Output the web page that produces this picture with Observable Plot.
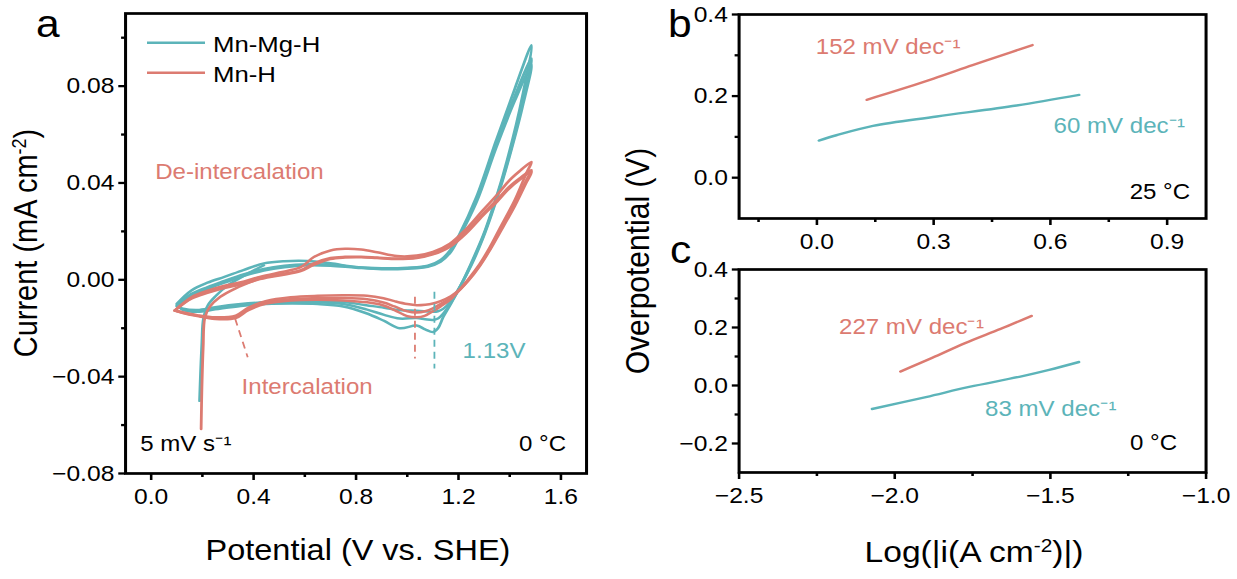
<!DOCTYPE html>
<html><head><meta charset="utf-8">
<script src="https://cdn.jsdelivr.net/npm/d3@7"></script>
<script src="https://cdn.jsdelivr.net/npm/@observablehq/plot@0.6"></script>
<style>
html,body{margin:0;padding:0;background:#fff;}
body{width:1237px;height:579px;overflow:hidden;}
#fig{position:relative;height:579px;transform-origin:0 0;font-family:"Liberation Sans",Arial,Helvetica,sans-serif;}
#fig > svg{position:absolute;overflow:visible;}
</style></head>
<body><div id="fig"></div>
<script>
// ================= DATA =================
// Panel a: cyclic voltammetry (V vs. SHE, mA cm^-2), three cycles per sample + initial transient
const tealInitV = [0.189, 0.193, 0.198, 0.204, 0.221, 0.253, 0.299, 0.364, 0.44];
const tealInitI = [-0.0500, -0.0380, -0.0260, -0.0161, -0.0106, -0.0066, -0.0023, 0.0018, 0.0060];

const tealAnodicV = [0.10, 0.157, 0.22, 0.286, 0.36, 0.44, 0.52, 0.61, 0.70, 0.80, 0.90, 1.00, 1.08, 1.13, 1.17, 1.20, 1.27, 1.347, 1.42, 1.485];
const tealAnodicI1 = [-0.0099, -0.0044, -0.0012, 0.0012, 0.0040, 0.0068, 0.0077, 0.0078, 0.0068, 0.0053, 0.0048, 0.0050, 0.0058, 0.0082, 0.0125, 0.0180, 0.0342, 0.0576, 0.0790, 0.0969];
const tealAnodicI2 = [-0.0105, -0.0058, -0.0030, -0.0005, 0.0022, 0.0045, 0.0058, 0.0064, 0.0062, 0.0052, 0.0046, 0.0048, 0.0056, 0.0078, 0.0120, 0.0175, 0.0330, 0.0560, 0.0760, 0.0914];
const tealAnodicI3 = [-0.0110, -0.0065, -0.0038, -0.0012, 0.0015, 0.0038, 0.0052, 0.0060, 0.0058, 0.0050, 0.0044, 0.0046, 0.0054, 0.0075, 0.0115, 0.0170, 0.0320, 0.0545, 0.0740, 0.0887];

const tealCathodicV = [1.45, 1.425, 1.373, 1.33, 1.295, 1.25, 1.21, 1.17, 1.14, 1.12, 1.10, 1.07, 1.037, 0.97, 0.91, 0.84, 0.75, 0.65, 0.55, 0.45, 0.35, 0.25, 0.18, 0.12, 0.10];
const tealCathodicI1 = [0.0760, 0.0640, 0.0430, 0.0285, 0.0180, 0.0070, -0.0020, -0.0100, -0.0155, -0.0200, -0.0216, -0.0205, -0.0189, -0.0200, -0.0170, -0.0138, -0.0110, -0.0100, -0.0098, -0.0100, -0.0108, -0.0122, -0.0132, -0.0122, -0.0099];
const tealCathodicI2 = [0.0730, 0.0620, 0.0420, 0.0278, 0.0175, 0.0065, -0.0022, -0.0095, -0.0140, -0.0160, -0.0166, -0.0163, -0.0158, -0.0160, -0.0145, -0.0122, -0.0100, -0.0093, -0.0092, -0.0095, -0.0103, -0.0117, -0.0128, -0.0120, -0.0105];
const tealCathodicI3 = [0.0715, 0.0610, 0.0413, 0.0272, 0.0170, 0.0060, -0.0020, -0.0088, -0.0120, -0.0130, -0.0132, -0.0130, -0.0128, -0.0125, -0.0115, -0.0105, -0.0092, -0.0088, -0.0088, -0.0092, -0.0100, -0.0113, -0.0125, -0.0118, -0.0110];

const salmonInitV = [0.195, 0.198, 0.203, 0.210, 0.230, 0.270, 0.330, 0.415];
const salmonInitI = [-0.0616, -0.0450, -0.0280, -0.0155, -0.0110, -0.0070, -0.0035, 0.0002];

const salmonAnodicV = [0.092, 0.157, 0.22, 0.286, 0.35, 0.415, 0.50, 0.584, 0.635, 0.70, 0.757, 0.82, 0.882, 0.96, 1.037, 1.10, 1.166, 1.23, 1.295, 1.35, 1.399, 1.44, 1.485];
const salmonAnodicI1 = [-0.0127, -0.0072, -0.0045, -0.0024, -0.0010, 0.0010, 0.0030, 0.0052, 0.0094, 0.0121, 0.0128, 0.0125, 0.0114, 0.0098, 0.0100, 0.0115, 0.0149, 0.0210, 0.0287, 0.0350, 0.0411, 0.0450, 0.0487];
const salmonAnodicI2 = [-0.0127, -0.0075, -0.0050, -0.0030, -0.0016, 0.0004, 0.0022, 0.0040, 0.0068, 0.0090, 0.0095, 0.0095, 0.0092, 0.0088, 0.0092, 0.0108, 0.0140, 0.0198, 0.0272, 0.0330, 0.0385, 0.0420, 0.0453];
const salmonAnodicI3 = [-0.0127, -0.0078, -0.0054, -0.0034, -0.0020, 0.0000, 0.0018, 0.0036, 0.0062, 0.0086, 0.0092, 0.0093, 0.0090, 0.0086, 0.0090, 0.0105, 0.0136, 0.0192, 0.0265, 0.0322, 0.0378, 0.0414, 0.0446];

const salmonCathodicV = [1.464, 1.42, 1.36, 1.32, 1.283, 1.24, 1.205, 1.17, 1.13, 1.10, 1.07, 1.037, 1.00, 0.95, 0.907, 0.843, 0.75, 0.65, 0.545, 0.45, 0.38, 0.33, 0.25, 0.18, 0.12, 0.092];
const salmonCathodicI1 = [0.0438, 0.0330, 0.0210, 0.0130, 0.0066, 0.0005, -0.0040, -0.0080, -0.0110, -0.0130, -0.0148, -0.0155, -0.0150, -0.0125, -0.0106, -0.0093, -0.0085, -0.0082, -0.0085, -0.0098, -0.0125, -0.0158, -0.0162, -0.0150, -0.0136, -0.0127];
const salmonCathodicI2 = [0.0410, 0.0315, 0.0200, 0.0122, 0.0060, 0.0000, -0.0042, -0.0075, -0.0100, -0.0118, -0.0130, -0.0135, -0.0130, -0.0110, -0.0094, -0.0080, -0.0075, -0.0076, -0.0080, -0.0093, -0.0120, -0.0152, -0.0158, -0.0148, -0.0135, -0.0127];
const salmonCathodicI3 = [0.0400, 0.0305, 0.0192, 0.0118, 0.0057, -0.0002, -0.0040, -0.0068, -0.0088, -0.0098, -0.0103, -0.0105, -0.0100, -0.0088, -0.0076, -0.0066, -0.0064, -0.0066, -0.0072, -0.0087, -0.0115, -0.0148, -0.0155, -0.0146, -0.0133, -0.0127];

// Peak markers (dashed) in panel a
const peakMarkers = [
  {series: "Mn-H",    V: 1.03,  I1: -0.0072, I2: -0.0327},
  {series: "Mn-Mg-H", V: 1.106, I1: -0.0051, I2: -0.0368}
];
const intercalationPointer = [{series: "Mn-H", V1: 0.328, I1: -0.0161, V2: 0.377, I2: -0.0320}];

// Panel a annotations (data coordinates, text baseline)
const annA = [
  {key: "Mn-H",    text: "De-intercalation", x: 0.0155, y: 0.0418, anchor: "start"},
  {key: "Mn-H",    text: "Intercalation",    x: 0.353,  y: -0.0472, anchor: "start"},
  {key: "Mn-Mg-H", text: "1.13V",            x: 1.216,  y: -0.0323, anchor: "start"},
  {key: "black",   text: "5 mV s\u207B\u00B9", x: -0.043, y: -0.0706, anchor: "start"},
  {key: "black",   text: "0 \u00B0C",        x: 1.62,   y: -0.0706, anchor: "end"}
];

// Panel b: Tafel plots at 25 °C
const bTealX = [0.005, 0.05, 0.144, 0.308, 0.513, 0.674];
const bTealY = [0.091, 0.104, 0.127, 0.150, 0.177, 0.203];
const bSalmonX = [0.128, 0.2, 0.3, 0.4, 0.5, 0.554];
const bSalmonY = [0.191, 0.212, 0.243, 0.276, 0.308, 0.325];
const annB = [
  {key: "Mn-H",    text: "152 mV dec\u207B\u00B9", x: -0.003, y: 0.3035, anchor: "start"},
  {key: "Mn-Mg-H", text: "60 mV dec\u207B\u00B9",  x: 0.608,  y: 0.109,  anchor: "start"},
  {key: "black",   text: "25 \u00B0C",            x: 0.959,  y: -0.0514, anchor: "end"}
];

// Panel c: Tafel plots at 0 °C
const cTealX = [-2.073, -1.90, -1.761, -1.60, -1.504, -1.408];
const cTealY = [-0.081, -0.040, -0.005, 0.030, 0.054, 0.081];
const cSalmonX = [-1.982, -1.88, -1.774, -1.66, -1.56];
const cSalmonY = [0.048, 0.095, 0.146, 0.195, 0.240];
const annC = [
  {key: "Mn-H",    text: "227 mV dec\u207B\u00B9", x: -2.179, y: 0.178,  anchor: "start"},
  {key: "Mn-Mg-H", text: "83 mV dec\u207B\u00B9",  x: -1.710, y: -0.1045, anchor: "start"},
  {key: "black",   text: "0 \u00B0C",             x: -1.093, y: -0.222, anchor: "end"}
];

// Ticks
const aXMajor = [0, 0.4, 0.8, 1.2, 1.6], aXMinor = [0.2, 0.6, 1.0, 1.4];
const aYMajor = [-0.08, -0.04, 0, 0.04, 0.08], aYMinor = [-0.06, -0.02, 0.02, 0.06, 0.10];
const bXMajor = [0, 0.3, 0.6, 0.9], bXMinor = [-0.15, 0.15, 0.45, 0.75];
const bYMajor = [0, 0.2, 0.4], bYMinor = [0.1, 0.3];
const cXMajor = [-2.5, -2.0, -1.5, -1.0], cXMinor = [-2.25, -1.75, -1.25];
const cYMajor = [-0.2, 0, 0.2, 0.4], cYMinor = [-0.1, 0.1, 0.3];

const legendItems = ["Mn-Mg-H", "Mn-H"];

// ================= STYLE / LAYOUT =================
const S = 1.12;                 // horizontal stretch of the reference figure
const X = px => px / S;
const FONT = '"Liberation Sans", Arial, Helvetica, sans-serif';
const COLORS = {"Mn-Mg-H": "#5cb4b9", "Mn-H": "#dc7b71", "black": "#000"};
const TICK_FS = 22, ANN_FS = 21.5;

const fig = document.getElementById("fig");
fig.style.width = X(1237) + "px";
fig.style.transform = `scaleX(${S})`;

function rows(series, cycle, Vs, Is) { return Vs.map((v, i) => ({series, cycle, V: v, I: Is[i]})); }
function pts(series, xs, ys) { return xs.map((x, i) => ({series, x, y: ys[i]})); }

const cvTeal = [
  ...rows("Mn-Mg-H", "init", tealInitV, tealInitI),
  ...rows("Mn-Mg-H", "c1", tealAnodicV.concat(tealCathodicV), tealAnodicI1.concat(tealCathodicI1)),
  ...rows("Mn-Mg-H", "c2", tealAnodicV.concat(tealCathodicV), tealAnodicI2.concat(tealCathodicI2)),
  ...rows("Mn-Mg-H", "c3", tealAnodicV.concat(tealCathodicV), tealAnodicI3.concat(tealCathodicI3))
];
const cvSalmon = [
  ...rows("Mn-H", "init", salmonInitV, salmonInitI),
  ...rows("Mn-H", "c1", salmonAnodicV.concat(salmonCathodicV), salmonAnodicI1.concat(salmonCathodicI1)),
  ...rows("Mn-H", "c2", salmonAnodicV.concat(salmonCathodicV), salmonAnodicI2.concat(salmonCathodicI2)),
  ...rows("Mn-H", "c3", salmonAnodicV.concat(salmonCathodicV), salmonAnodicI3.concat(salmonCathodicI3))
];

function axes(xMajor, xMinor, xFmt, yMajor, yMinor, yFmt) {
  return [
    Plot.axisX({ticks: xMajor, tickFormat: xFmt, tickSize: 7, tickPadding: 8, strokeWidth: 2.3, label: null, fontSize: TICK_FS}),
    Plot.axisX({ticks: xMinor, tickFormat: () => "", tickSize: 4, strokeWidth: 2.3, label: null}),
    Plot.axisY({ticks: yMajor, tickFormat: yFmt, tickSize: 6, tickPadding: 4, strokeWidth: 2.3, label: null, fontSize: TICK_FS}),
    Plot.axisY({ticks: yMinor, tickFormat: () => "", tickSize: 3.5, strokeWidth: 2.3, label: null})
  ];
}
function annMarks(list) {
  return list.map(a => Plot.text([a], {x: "x", y: "y", text: "text", fill: COLORS[a.key],
    textAnchor: a.anchor, lineAnchor: "bottom", fontSize: ANN_FS, fontFamily: FONT}));
}
const baseStyle = {fontFamily: FONT, fontSize: TICK_FS + "px", color: "#000", background: "transparent", overflow: "visible"};

// ---------- Panel a ----------
const plotA = Plot.plot({
  width: X(620), height: 579,
  marginLeft: X(125), marginRight: X(34), marginTop: 13, marginBottom: 106,
  x: {domain: [-0.1, 1.7], label: null},
  y: {domain: [-0.08, 0.11], label: null},
  style: baseStyle,
  marks: [
    ...axes(aXMajor, aXMinor, d3.format(".1f"), aYMajor, aYMinor, d3.format(".2f")),
    Plot.line(cvTeal, {x: "V", y: "I", z: "cycle", stroke: COLORS["Mn-Mg-H"], strokeWidth: 2.5, curve: "catmull-rom"}),
    Plot.line(cvSalmon, {x: "V", y: "I", z: "cycle", stroke: COLORS["Mn-H"], strokeWidth: 2.5, curve: "catmull-rom"}),
    ...peakMarkers.map(p => Plot.ruleX([p], {x: "V", y1: "I1", y2: "I2", stroke: COLORS[p.series], strokeWidth: 1.6, strokeDasharray: "7,5"})),
    Plot.link(intercalationPointer, {x1: "V1", y1: "I1", x2: "V2", y2: "I2", stroke: COLORS["Mn-H"], strokeWidth: 1.6, strokeDasharray: "7,5"}),
    ...annMarks(annA),
    Plot.frame({strokeWidth: 2.7})
  ]
});
plotA.style.left = "0px"; plotA.style.top = "0px";
fig.appendChild(plotA);

// ---------- Panel b ----------
const plotB = Plot.plot({
  width: X(597), height: 262,
  marginLeft: X(99), marginRight: X(31), marginTop: 14, marginBottom: 44,
  x: {domain: [-0.2, 1.0], label: null},
  y: {domain: [-0.1, 0.4], label: null},
  style: baseStyle,
  marks: [
    ...axes(bXMajor, bXMinor, d3.format(".1f"), bYMajor, bYMinor, d3.format(".1f")),
    Plot.line(pts("Mn-Mg-H", bTealX, bTealY), {x: "x", y: "y", stroke: COLORS["Mn-Mg-H"], strokeWidth: 2.4, curve: "catmull-rom"}),
    Plot.line(pts("Mn-H", bSalmonX, bSalmonY), {x: "x", y: "y", stroke: COLORS["Mn-H"], strokeWidth: 2.4, curve: "catmull-rom"}),
    ...annMarks(annB),
    Plot.frame({strokeWidth: 2.7})
  ]
});
plotB.style.left = X(640) + "px"; plotB.style.top = "0px";
fig.appendChild(plotB);

// ---------- Panel c ----------
const plotC = Plot.plot({
  width: X(597), height: 329,
  marginLeft: X(99), marginRight: X(31), marginTop: 19, marginBottom: 107,
  x: {domain: [-2.5, -1.0], label: null},
  y: {domain: [-0.3, 0.4], label: null},
  style: baseStyle,
  marks: [
    ...axes(cXMajor, cXMinor, d3.format(".1f"), cYMajor, cYMinor, d3.format(".1f")),
    Plot.line(pts("Mn-Mg-H", cTealX, cTealY), {x: "x", y: "y", stroke: COLORS["Mn-Mg-H"], strokeWidth: 2.4, curve: "catmull-rom"}),
    Plot.line(pts("Mn-H", cSalmonX, cSalmonY), {x: "x", y: "y", stroke: COLORS["Mn-H"], strokeWidth: 2.4, curve: "catmull-rom"}),
    ...annMarks(annC),
    Plot.frame({strokeWidth: 2.7})
  ]
});
plotC.style.left = X(640) + "px"; plotC.style.top = "250px";
fig.appendChild(plotC);

// ---------- Overlay: panel letters, axis titles, legend ----------
const ov = d3.create("svg")
  .attr("width", X(1237)).attr("height", 579)
  .style("left", "0px").style("top", "0px").style("pointer-events", "none")
  .attr("font-family", FONT);

function label(x, y, size, rotate, parts) {
  const t = ov.append("text")
    .attr("transform", `translate(${x},${y})` + (rotate ? " rotate(-90)" : ""))
    .attr("text-anchor", "middle").attr("font-size", size).attr("fill", "#000");
  parts.forEach(p => {
    const ts = t.append("tspan").text(p.t);
    if (p.sup) ts.attr("font-size", size * 0.62).attr("baseline-shift", "super");
  });
  return t;
}
// panel letters
[["a", 36, 37], ["b", 668, 37], ["c", 670, 263]].forEach(([l, x, y]) =>
  ov.append("text").attr("x", X(x)).attr("y", y).attr("font-size", 38).attr("fill", "#000").text(l));

label(X(37), 243, 29, true, [{t: "Current (mA cm"}, {t: "-2", sup: true}, {t: ")"}]);
label(X(358), 560, 29, false, [{t: "Potential (V vs. SHE)"}]);
label(X(649), 261, 30, true, [{t: "Overpotential (V)"}]);
label(X(974), 562, 30, false, [{t: "Log(|i(A cm"}, {t: "-2", sup: true}, {t: ")|)"}]);

// legend
legendItems.forEach((name, i) => {
  const y = 42.7 + i * 30;
  ov.append("line").attr("x1", X(147)).attr("x2", X(205)).attr("y1", y).attr("y2", y)
    .attr("stroke", COLORS[name]).attr("stroke-width", 2.6);
  ov.append("text").attr("x", X(213)).attr("y", y + 9).attr("font-size", 23).attr("fill", "#000").text(name);
});

fig.appendChild(ov.node());
</script>
</body></html>
